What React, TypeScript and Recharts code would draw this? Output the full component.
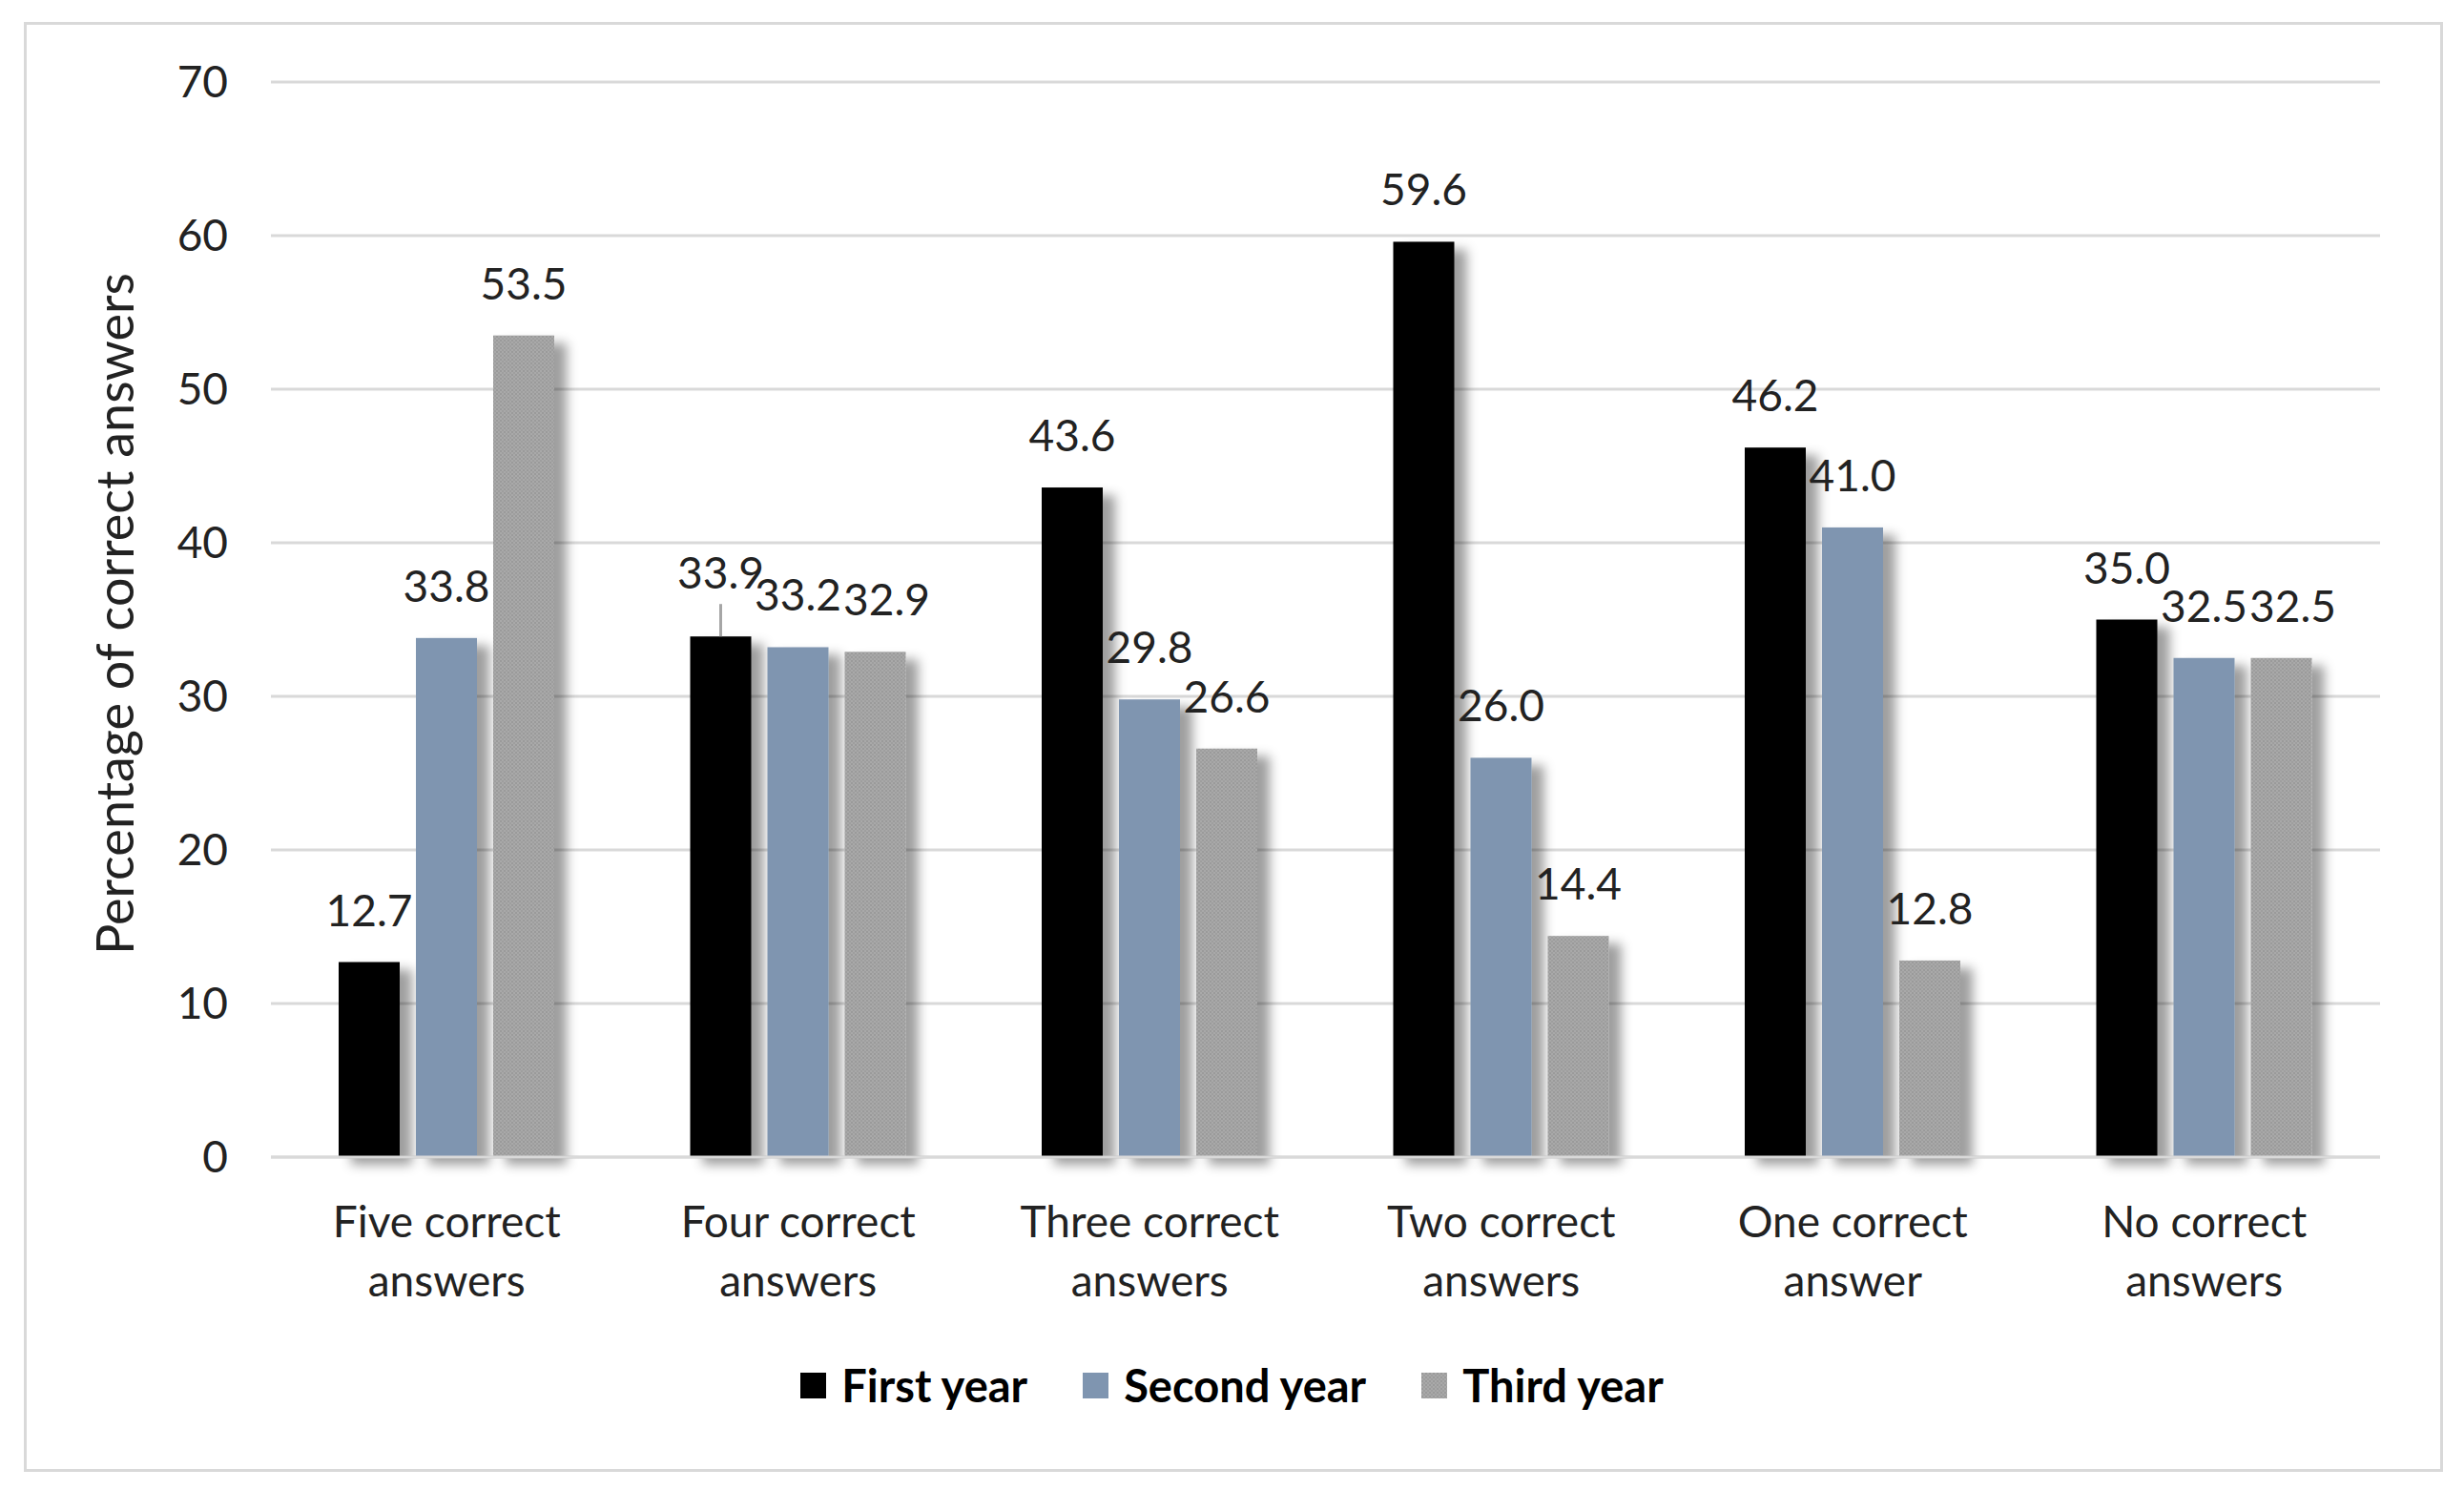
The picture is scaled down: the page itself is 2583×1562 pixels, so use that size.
import React from "react";
import { BarChart, Bar, XAxis, YAxis, CartesianGrid, Legend, LabelList } from "recharts";

const categories = [
  "Five correct answers",
  "Four correct answers",
  "Three correct answers",
  "Two correct answers",
  "One correct answer",
  "No correct answers",
];
const firstYear = [12.7, 33.9, 43.6, 59.6, 46.2, 35.0];
const secondYear = [33.8, 33.2, 29.8, 26.0, 41.0, 32.5];
const thirdYear = [53.5, 32.9, 26.6, 14.4, 12.8, 32.5];
const yTicks = [0, 10, 20, 30, 40, 50, 60, 70];
const seriesNames = ["First year", "Second year", "Third year"];
// index of the First-year label that Excel lifted with a leader line
const leaderLabelIndex = 1;

const data = categories.map((c, i) => ({
  category: c,
  first: firstYear[i],
  second: secondYear[i],
  third: thirdYear[i],
}));

const FONT = "Lato, 'Open Sans', sans-serif";
const TEXT = "#222222";
const GRID = "#d9d9d9";
const BLUE = "#7f95b0";
const GRAY_FILL = "url(#grayDots)";

const CategoryTick = (props: any) => {
  const { x, y, payload } = props;
  const words = String(payload.value).split(" ");
  const l1 = words.slice(0, 2).join(" ");
  const l2 = words.slice(2).join(" ");
  return (
    <text x={x} y={y} textAnchor="middle" fontFamily={FONT} fontSize={46} fill={TEXT}>
      <tspan x={x} dy={84}>{l1}</tspan>
      <tspan x={x} dy={62}>{l2}</tspan>
    </text>
  );
};

const BarShape = (props: any) => {
  const { x, y, width, height, fill } = props;
  if (!height || height <= 0) return null;
  return <rect x={x} y={y} width={width} height={height} fill={fill} filter="url(#barShadow)" />;
};

// series: 0 first, 1 second, 2 third
const makeLabel = (series: number) => (props: any) => {
  const { x, y, width, value, index } = props;
  let cx = Number(x) + Number(width) / 2;
  const top = Number(y);
  const lifted = series === 0 && index === leaderLabelIndex;
  // Excel nudges the third label right when it collides with the second one
  if (series === 2 && Math.abs(secondYear[index] - thirdYear[index]) < 1) cx += 12;
  const baseY = lifted ? top - 50 : top - 38;
  return (
    <g>
      {lifted && <line x1={cx} x2={cx} y1={top} y2={top - 34} stroke="#a6a6a6" strokeWidth={3} />}
      <text x={cx} y={baseY} textAnchor="middle" fontFamily={FONT} fontSize={46} fill={TEXT}>
        {Number(value).toFixed(1)}
      </text>
    </g>
  );
};

const legendFills = ["#000000", BLUE, GRAY_FILL];

const LegendContent = () => (
  <div
    style={{
      height: 80,
      display: "flex",
      justifyContent: "center",
      alignItems: "center",
      fontFamily: FONT,
      fontWeight: 700,
      fontSize: 47,
      color: "#000",
    }}
  >
    {seriesNames.map((n, i) => (
      <div key={n} style={{ display: "flex", alignItems: "center", marginRight: i < 2 ? 58 : 0 }}>
        <svg width={27} height={27} style={{ marginRight: 16 }}>
          <rect x={0} y={0} width={27} height={27} fill={legendFills[i]} />
        </svg>
        <span>{n}</span>
      </div>
    ))}
  </div>
);

export default function App() {
  return (
    <div style={{ position: "absolute", left: 0, top: 0, width: 2583, height: 1562, background: "#fff" }}>
      <svg width={0} height={0} style={{ position: "absolute" }}>
        <defs>
          <filter id="barShadow" x="-30%" y="-10%" width="180%" height="130%">
            <feDropShadow dx={13} dy={8} stdDeviation={6} floodColor="#000" floodOpacity={0.38} />
          </filter>
          <pattern id="grayDots" width={4} height={4} patternUnits="userSpaceOnUse">
            <rect width={4} height={4} fill="#a9a9a9" />
            <rect width={2} height={2} fill="#9a9a9a" />
            <rect x={2} y={2} width={2} height={2} fill="#9e9e9e" />
          </pattern>
        </defs>
      </svg>
      <div
        style={{
          position: "absolute",
          left: 25,
          top: 23,
          width: 2530,
          height: 1514,
          border: `3px solid ${GRID}`,
        }}
      />
      <div style={{ position: "absolute", left: 0, top: 0 }}>
        <BarChart
          width={2583}
          height={1562}
          data={data}
          margin={{ top: 86, right: 88, left: 0, bottom: 70 }}
          barSize={64}
          barGap={17}
        >
          <CartesianGrid vertical={false} stroke={GRID} strokeWidth={3} />
          <XAxis
            dataKey="category"
            height={199}
            tick={<CategoryTick />}
            tickLine={false}
            tickSize={0}
            tickMargin={0}
            axisLine={{ stroke: GRID, strokeWidth: 3 }}
            interval={0}
          />
          <YAxis
            width={284}
            domain={[0, 70]}
            ticks={yTicks}
            tickLine={false}
            tickSize={0}
            tickMargin={45}
            axisLine={false}
            tick={{ fontFamily: FONT, fontSize: 46, fill: TEXT }}
            label={(p: any) => {
              const vb = p.viewBox || {};
              const cx = (vb.x || 0) + 119;
              const cy = (vb.y || 0) + (vb.height || 0) / 2 - 6;
              return (
                <text
                  x={cx}
                  y={cy}
                  transform={`rotate(-90 ${cx} ${cy})`}
                  textAnchor="middle"
                  dominantBaseline="central"
                  fontFamily={FONT}
                  fontSize={54}
                  fill={TEXT}
                >
                  Percentage of correct answers
                </text>
              );
            }}
          />
          <Legend
            verticalAlign="bottom"
            content={<LegendContent />}
            wrapperStyle={{ left: 0, width: 2583 }}
          />
          <Bar dataKey="first" name={seriesNames[0]} fill="#000000" shape={<BarShape />} isAnimationActive={false}>
            <LabelList dataKey="first" content={makeLabel(0)} />
          </Bar>
          <Bar dataKey="second" name={seriesNames[1]} fill={BLUE} shape={<BarShape />} isAnimationActive={false}>
            <LabelList dataKey="second" content={makeLabel(1)} />
          </Bar>
          <Bar dataKey="third" name={seriesNames[2]} fill={GRAY_FILL} shape={<BarShape />} isAnimationActive={false}>
            <LabelList dataKey="third" content={makeLabel(2)} />
          </Bar>
        </BarChart>
      </div>
    </div>
  );
}
